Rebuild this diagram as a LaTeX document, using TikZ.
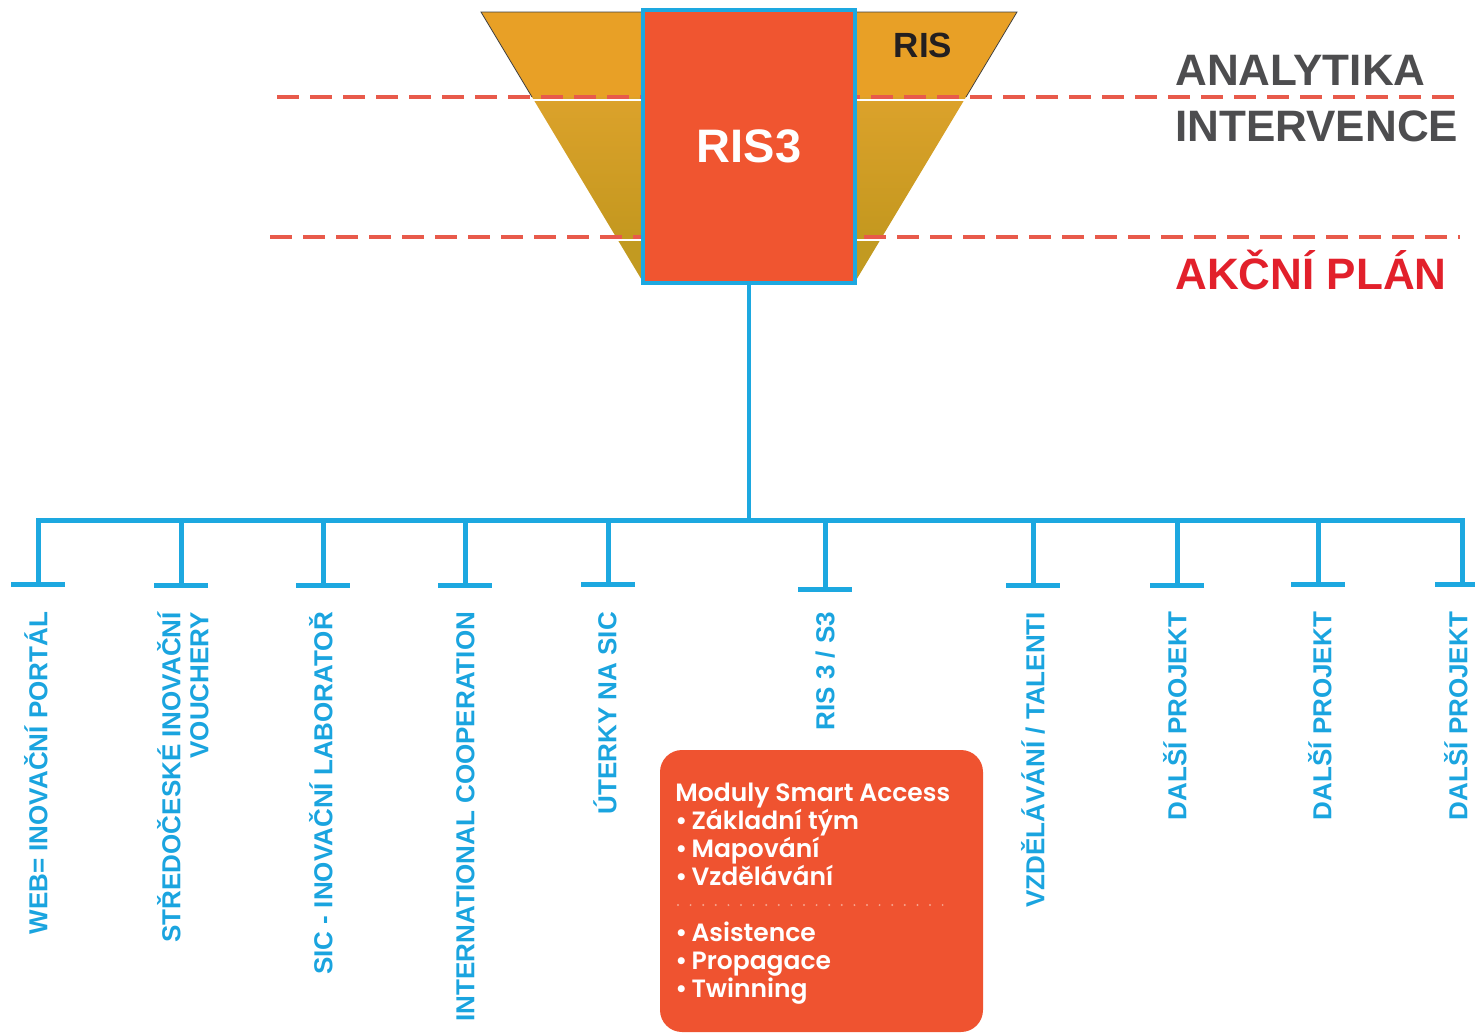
\documentclass[tikz,border=0pt]{standalone}
\usepackage{fontspec}
\setmainfont{Liberation Sans}
\newfontfamily\popfont{Poppins SemiBold}
\definecolor{cyanl}{HTML}{1DA8E0}
\definecolor{lblblue}{HTML}{1AA4DF}
\definecolor{risfill}{HTML}{F05530}
\definecolor{smartfill}{HTML}{EF5330}
\definecolor{dashred}{HTML}{E85A4B}
\definecolor{greyt}{HTML}{4D4D4F}
\definecolor{redt}{HTML}{E2202B}
\definecolor{risblack}{HTML}{231F20}
\definecolor{funtop}{HTML}{E8A026}
\definecolor{funmidA}{HTML}{DCA22B}
\definecolor{funmidB}{HTML}{C4981F}
\definecolor{funbot}{HTML}{C29A21}
\definecolor{dotcol}{HTML}{F6A48E}
\begin{document}
\begin{tikzpicture}[x=0.5pt,y=-0.5pt,
  conn/.style={draw=cyanl, line width=2.5pt},
  barbox/.style={fill=cyanl, minimum width=27pt, minimum height=2.5pt, inner sep=0pt, outer sep=0pt},
  lbl/.style={rotate=90, anchor=east, inner sep=0pt, outer sep=0pt, text=lblblue,
    font=\bfseries\fontsize{13}{14}\selectfont, text height=9.3pt, text depth=0pt},
  dashline/.style={draw=dashred, line width=2pt, dash pattern=on 11pt off 5.5pt},
  sidetext/.style={anchor=base west, inner sep=0pt, font=\bfseries\fontsize{22}{26}\selectfont},
]
\useasboundingbox (0,0) rectangle (1475,1033);
\clip (0,0) rectangle (1475,1033);

% funnel
\fill[funtop] (481,12) -- (1017,12) -- (966,97) -- (532,97) -- cycle;
\shade[top color=funmidA, bottom color=funmidB] (532,97) -- (966,97) -- (882,237) -- (616,237) -- cycle;
\fill[funbot] (616,237) -- (882,237) -- (855,282) -- (643,282) -- cycle;
\draw[white, line width=0.8pt] (532,100) -- (966,100);
\draw[white, line width=0.8pt] (616,240) -- (882,240);
\draw[black!75, line width=0.4pt] (532,97) -- (481,12) -- (1017,12) -- (966,97);

% dashed separators
\draw[dashline] (277,97) -- (1460,97);
\draw[dashline] (270,237) -- (1460,237);

% RIS3 box
\node[draw=cyanl, line width=2pt, fill=risfill, minimum width=106pt, minimum height=136.5pt,
  inner sep=0pt, outer sep=0pt, text=white, font=\bfseries\fontsize{23.5}{26}\selectfont]
  (ris3) at (749,146.5) {\raisebox{-2.25pt}{RIS3}};
\node[anchor=base, inner sep=0pt, text=risblack, font=\bfseries\fontsize{17.5}{20}\selectfont]
  (ris) at (923,57) {RIS};

% side labels
\node[sidetext, text=greyt] (analytika) at (1175,85) {ANALYTIKA};
\node[sidetext, text=greyt] (intervence) at (1175,141) {INTERVENCE};
\node[sidetext, text=redt] (akcni) at (1175,289) {AKČNÍ PLÁN};

% tree
\coordinate (bus) at (749,520);
\node[barbox] (bar1) at (38,584) {};
\node[barbox] (bar2) at (181,585) {};
\node[barbox] (bar3) at (323,585) {};
\node[barbox] (bar4) at (465,585) {};
\node[barbox] (bar5) at (608,584) {};
\node[barbox] (bar6) at (825,589) {};
\node[barbox] (bar7) at (1033,585) {};
\node[barbox] (bar8) at (1177,585) {};
\node[barbox] (bar9) at (1318,584) {};
\node[barbox] (bar10) at (1462,584) {};

\draw[conn, line width=2pt] (ris3.south) -- (bus);
\draw[conn, line join=miter] (bar1.center) -- (bar1.center |- bus) -- (bar10.center |- bus) -- (bar10.center);
\foreach \i in {2,...,9}{
  \draw[conn] (bar\i.center) -- (bar\i.center |- bus);
}

% rotated labels
\node[lbl] (l1) at (38,612) {WEB= INOVAČNÍ PORTÁL};
\node[lbl, align=right] (l2) at (199,612) {STŘEDOČESKÉ INOVAČNÍ\\VOUCHERY};
\node[lbl] (l3) at (323,612) {SIC - INOVAČNÍ LABORATOŘ};
\node[lbl] (l4) at (465,612) {INTERNATIONAL COOPERATION};
\node[lbl] (l5) at (607,612) {ÚTERKY NA SIC};
\node[lbl] (l6) at (825,612) {RIS 3 / S3};
\node[lbl] (l7) at (1035,612) {VZDĚLÁVÁNÍ / TALENTI};
\node[lbl] (l8) at (1177,612) {DALŠÍ PROJEKT};
\node[lbl] (l9) at (1322,612) {DALŠÍ PROJEKT};
\node[lbl] (l10) at (1458,612) {DALŠÍ PROJEKT};

% Smart Access box
\node[fill=smartfill, rounded corners=11pt, minimum width=161.5pt, minimum height=141pt,
  inner sep=0pt, outer sep=0pt, anchor=north west] (sa) at (660,750) {};
\node[anchor=base west, inner sep=0pt, text=white, align=left,
  font=\popfont\fontsize{12.5}{14}\selectfont] (satext) at (675,997)
  {Moduly Smart Access\\•\,Základní tým\\•\,Mapování\\•\,Vzdělávání\\[14pt]•\,Asistence\\•\,Propagace\\•\,Twinning};
\coordinate (dotA) at (678,905);
\coordinate (dotB) at (946,905);
\draw[dotcol, line width=1.1pt, line cap=round, dash pattern=on 0pt off 6.3pt] (dotA) -- (dotB);
\end{tikzpicture}
\end{document}
